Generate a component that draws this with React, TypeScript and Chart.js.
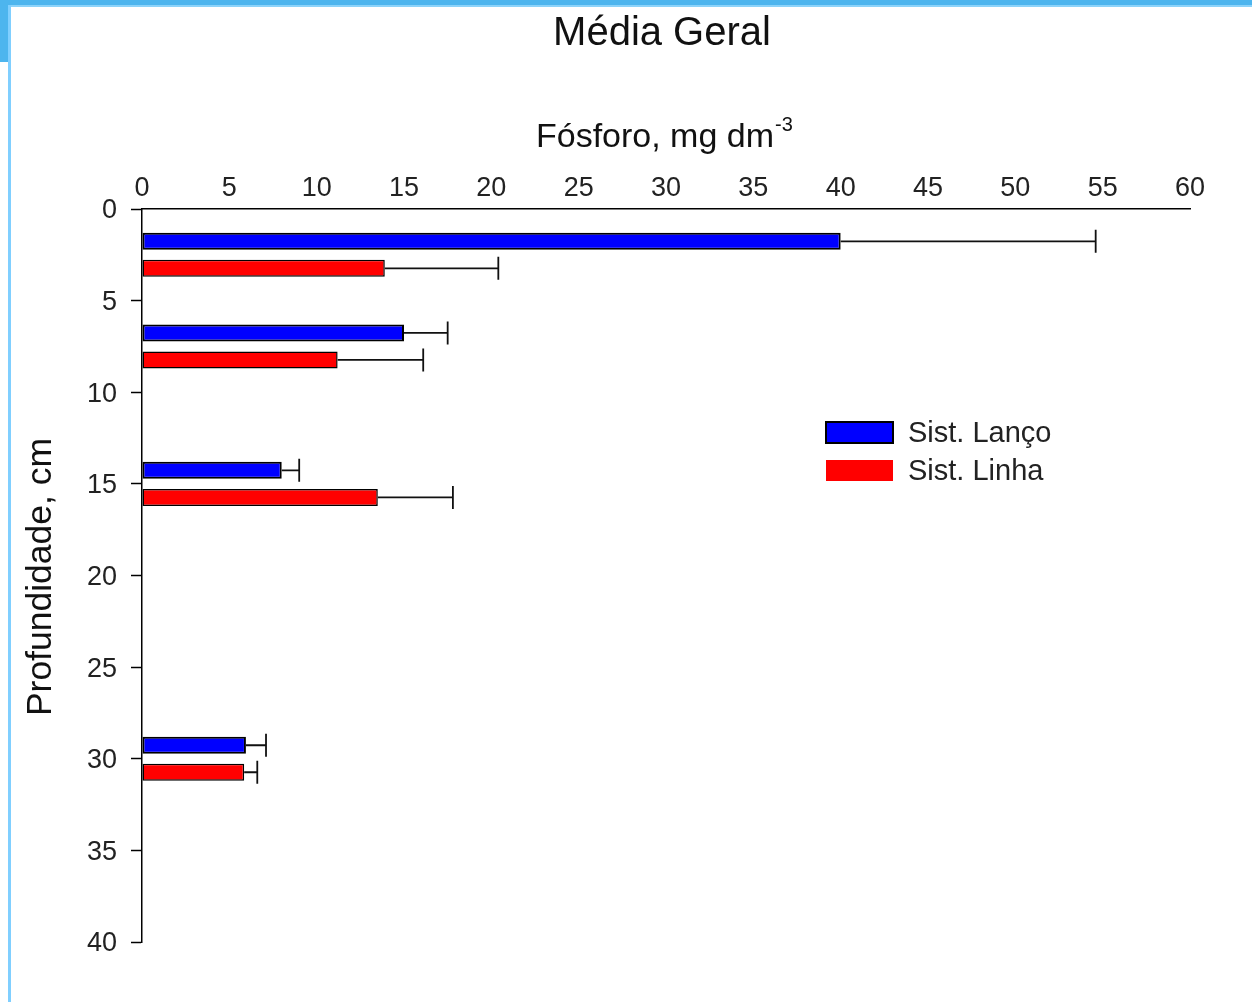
import React, { useEffect, useRef } from "react";
import { Chart, registerables } from "chart.js";

Chart.register(...registerables);

const depths = [2.5, 7.5, 15, 30];
const lancoValues = [40, 15, 8, 5.95];
const lancoErrors = [14.6, 2.5, 1.0, 1.15];
const linhaValues = [13.9, 11.2, 13.5, 5.85];
const linhaErrors = [6.5, 4.9, 4.3, 0.75];
const seriesLabels = ["Sist. Lanço", "Sist. Linha"];
const seriesColors = ["#0000FF", "#FF0000"];
const xTickStep = 5;
const yTickStep = 5;

const titleText = "Média Geral";
const xTitleText = "Fósforo, mg dm";
const xTitleSup = "-3";
const yTitleText = "Profundidade, cm";

const FONT = "'Liberation Sans', Arial, sans-serif";

const errorBarPlugin = {
  id: "errorBars",
  afterDatasetsDraw(chart: any) {
    const ctx = chart.ctx;
    const xs = chart.scales.x;
    const errs = [lancoErrors, linhaErrors];
    chart.data.datasets.forEach((ds: any, di: number) => {
      const meta = chart.getDatasetMeta(di);
      meta.data.forEach((bar: any, i: number) => {
        const v = ds.data[i].x;
        const e = errs[di][i];
        const x0 = bar.x;
        const x1 = xs.getPixelForValue(v + e);
        const y = bar.y;
        const cap = bar.height / 2 + 3;
        ctx.save();
        ctx.strokeStyle = "#111";
        ctx.lineWidth = 1.8;
        ctx.beginPath();
        ctx.moveTo(x0, y);
        ctx.lineTo(x1, y);
        ctx.moveTo(x1, y - cap);
        ctx.lineTo(x1, y + cap);
        ctx.stroke();
        ctx.restore();
      });
    });
  },
};

const textPlugin = {
  id: "texts",
  afterDraw(chart: any) {
    const ctx = chart.ctx;
    ctx.save();
    ctx.fillStyle = "#111";
    // main title
    ctx.font = `40px ${FONT}`;
    ctx.textAlign = "center";
    ctx.textBaseline = "alphabetic";
    ctx.fillText(titleText, 662, 45);
    // x title
    ctx.font = `34px ${FONT}`;
    ctx.textAlign = "left";
    const w = ctx.measureText(xTitleText).width;
    const xStart = 665 - (w + 20) / 2;
    ctx.fillText(xTitleText, xStart, 147);
    ctx.font = `20px ${FONT}`;
    ctx.fillText(xTitleSup, xStart + w + 1, 131);
    // y title
    ctx.font = `35.5px ${FONT}`;
    ctx.textAlign = "center";
    ctx.translate(51, 577);
    ctx.rotate(-Math.PI / 2);
    ctx.fillText(yTitleText, 0, 0);
    ctx.restore();

    // legend
    ctx.save();
    const lx = 826;
    const ly = [422, 460];
    chart.data.datasets.forEach((ds: any, i: number) => {
      ctx.fillStyle = ds.backgroundColor;
      ctx.fillRect(lx, ly[i], 67, 21);
      if (i === 0) {
        ctx.strokeStyle = "#000";
        ctx.lineWidth = 2;
        ctx.strokeRect(lx, ly[i], 67, 21);
      }
      ctx.fillStyle = "#222";
      ctx.font = `29px ${FONT}`;
      ctx.textAlign = "left";
      ctx.textBaseline = "middle";
      ctx.fillText(ds.label, 908, ly[i] + 12);
    });
    ctx.restore();
  },
};

export default function App() {
  const ref = useRef<HTMLCanvasElement | null>(null);

  useEffect(() => {
    document.body.style.margin = "0";
    const canvas = ref.current!;
    const chart = new Chart(canvas, {
      type: "bar",
      data: {
        datasets: [
          {
            label: seriesLabels[0],
            data: depths.map((d, i) => ({ x: lancoValues[i], y: d })),
            backgroundColor: seriesColors[0],
            borderColor: "#000",
            borderWidth: 2,
            borderSkipped: false,
          },
          {
            label: seriesLabels[1],
            data: depths.map((d, i) => ({ x: linhaValues[i], y: d })),
            backgroundColor: seriesColors[1],
            borderColor: "#000",
            borderWidth: 1.5,
            borderSkipped: false,
          },
        ] as any,
      },
      options: {
        indexAxis: "y",
        responsive: false,
        animation: false,
        categoryPercentage: 0.59,
        barPercentage: 0.63,
        layout: { padding: { left: 0, right: 62, top: 0, bottom: 60 } },
        plugins: {
          legend: { display: false },
          title: { display: false },
          tooltip: { enabled: false },
        },
        scales: {
          x: {
            type: "linear",
            position: "top",
            min: 0,
            max: 60,
            ticks: {
              stepSize: xTickStep,
              padding: 4,
              color: "#222",
              font: { family: FONT, size: 27 },
            },
            grid: { display: true, drawOnChartArea: false, drawTicks: false },
            border: { display: true, color: "#000", width: 1.5 },
            afterFit: (s: any) => {
              s.height = 209;
            },
          },
          y: {
            type: "linear",
            reverse: true,
            min: 0,
            max: 40,
            offset: false,
            ticks: {
              stepSize: yTickStep,
              padding: 14,
              labelOffset: 2,
              color: "#222",
              font: { family: FONT, size: 27 },
            },
            grid: {
              offset: false,
              drawOnChartArea: false,
              drawTicks: true,
              tickLength: 11,
              tickWidth: 1.5,
              tickColor: "#000",
            },
            border: { display: true, color: "#000", width: 1.5 },
            afterFit: (s: any) => {
              s.width = 142;
            },
          },
        },
      } as any,
      plugins: [errorBarPlugin, textPlugin],
    });
    return () => chart.destroy();
  }, []);

  return (
    <div style={{ position: "fixed", left: 0, top: 0, width: 1252, height: 1002, background: "#fff", overflow: "hidden" }}>
      <canvas ref={ref} width={1252} height={1002} style={{ position: "absolute", left: 0, top: 0 }} />
      <div style={{ position: "absolute", left: 0, top: 0, width: 1252, height: 5, background: "#4DB5EE" }} />
      <div style={{ position: "absolute", left: 0, top: 5, width: 1252, height: 2, background: "#8CD3FA" }} />
      <div style={{ position: "absolute", left: 0, top: 0, width: 8, height: 62, background: "#4DB5EE" }} />
      <div style={{ position: "absolute", left: 8, top: 5, width: 3, height: 997, background: "#80CFFF" }} />
    </div>
  );
}
